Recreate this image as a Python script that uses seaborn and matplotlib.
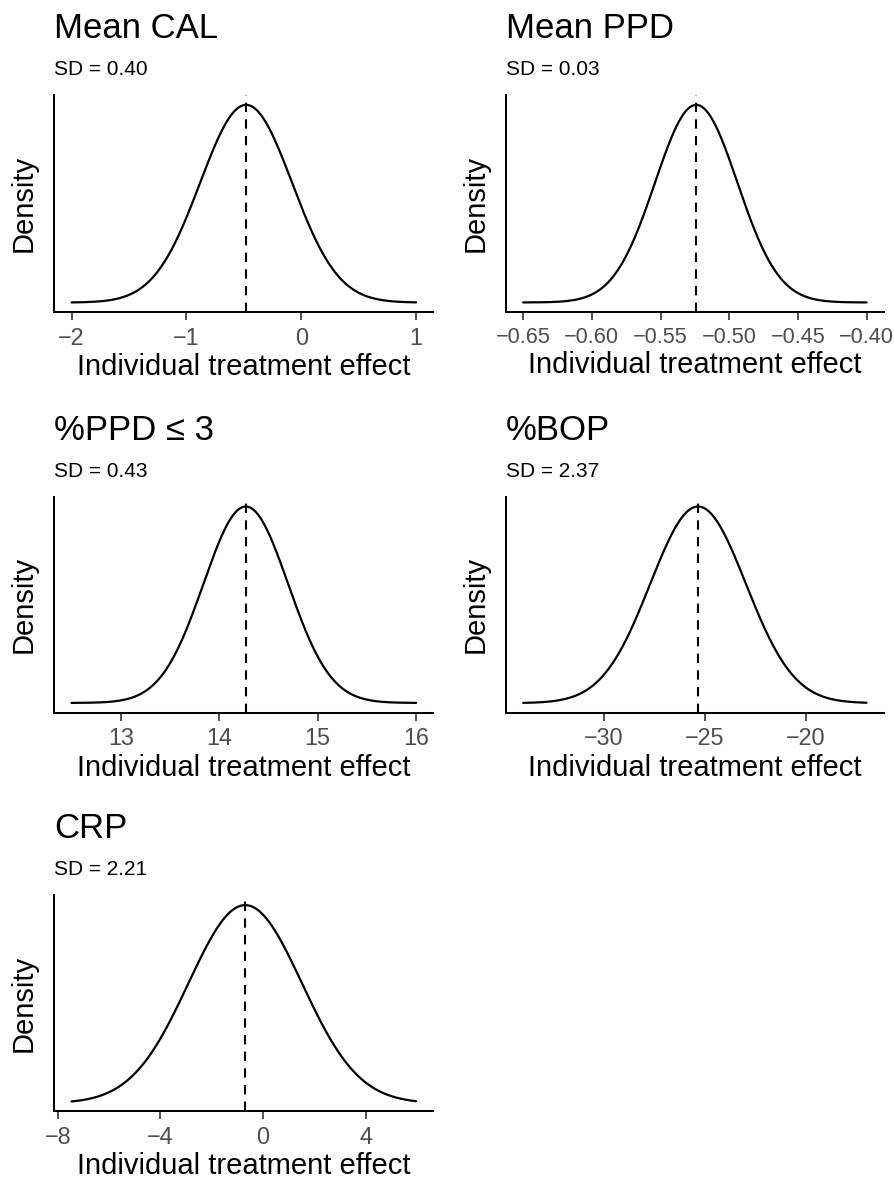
import numpy as np
import pandas as pd
import matplotlib
matplotlib.use("Agg")
import matplotlib.pyplot as plt
import seaborn as sns

# ---- data ----
outcomes = ["Mean CAL", "Mean PPD", "%PPD \u2264 3", "%BOP", "CRP"]
means = [-0.48, -0.524, 14.27, -25.34, -0.69]
sds = [0.40, 0.03, 0.43, 2.37, 2.21]
x_lo = [-2.0, -0.65, 12.5, -34.0, -7.46]
x_hi = [1.0, -0.40, 16.0, -17.0, 5.97]
xticks = [[-2, -1, 0, 1],
          [-0.65, -0.60, -0.55, -0.50, -0.45, -0.40],
          [13, 14, 15, 16],
          [-30, -25, -20],
          [-8, -4, 0, 4]]
tick_fmt = ["{:g}", "{:.2f}", "{:g}", "{:g}", "{:g}"]

sns.set_style("ticks")
plt.rcParams["font.family"] = ["Liberation Sans", "DejaVu Sans"]
plt.rcParams["axes.unicode_minus"] = True
plt.rcParams["text.color"] = "black"
plt.rcParams["axes.labelcolor"] = "black"

W, H = 894, 1182
fig = plt.figure(figsize=(W / 100, H / 100), dpi=100)

# panel boxes in pixels: (left, top, right, bottom)
boxes = [(54.3, 95.0, 433.3, 312.3),
         (506.0, 95.0, 883.7, 312.3),
         (54.3, 496.7, 433.3, 712.7),
         (506.0, 496.7, 883.7, 712.7),
         (54.3, 895.3, 433.3, 1111.3)]
tick_sizes = [16.8, 15.6, 16.8, 16.8, 16.8]

tick_col = "#4D4D4D"
for i, name in enumerate(outcomes):
    l, t, r, b = boxes[i]
    ax = fig.add_axes([l / W, 1 - b / H, (r - l) / W, (b - t) / H])
    x = np.linspace(x_lo[i], x_hi[i], 400)
    dens = np.exp(-0.5 * ((x - means[i]) / sds[i]) ** 2) / (sds[i] * np.sqrt(2 * np.pi))
    df = pd.DataFrame({"x": x, "density": dens})
    sns.lineplot(data=df, x="x", y="density", ax=ax, color="black", linewidth=1.6)
    ax.axvline(means[i], color="black", linewidth=1.5, linestyle=(0, (4.5, 3.5)))
    span = x_hi[i] - x_lo[i]
    ax.set_xlim(x_lo[i] - 0.05 * span, x_hi[i] + 0.05 * span)
    dspan = dens.max() - dens.min()
    ax.set_ylim(dens.min() - 0.05 * dspan, dens.max() + 0.05 * dspan)
    ax.set_xticks(xticks[i])
    ax.set_xticklabels([tick_fmt[i].format(v).replace("-", "\u2212") for v in xticks[i]])
    ax.set_yticks([])
    ax.tick_params(axis="x", length=5.5, width=1.2, color="#333333",
                   labelsize=tick_sizes[i], labelcolor=tick_col, pad=5)
    sns.despine(ax=ax)
    for s in ["left", "bottom"]:
        ax.spines[s].set_linewidth(1.45)
        ax.spines[s].set_color("black")
    ax.set_xlabel("Individual treatment effect", fontsize=21, labelpad=2.5)
    ax.set_ylabel("Density", fontsize=21, labelpad=12)
    fig.text(l / W, 1 - (t - 57) / H, name, fontsize=25, ha="left", va="baseline")
    fig.text(l / W, 1 - (t - 20) / H, "SD = {:.2f}".format(sds[i]), fontsize=15,
             ha="left", va="baseline")

fig.savefig("out.png", dpi=100, facecolor="white")
